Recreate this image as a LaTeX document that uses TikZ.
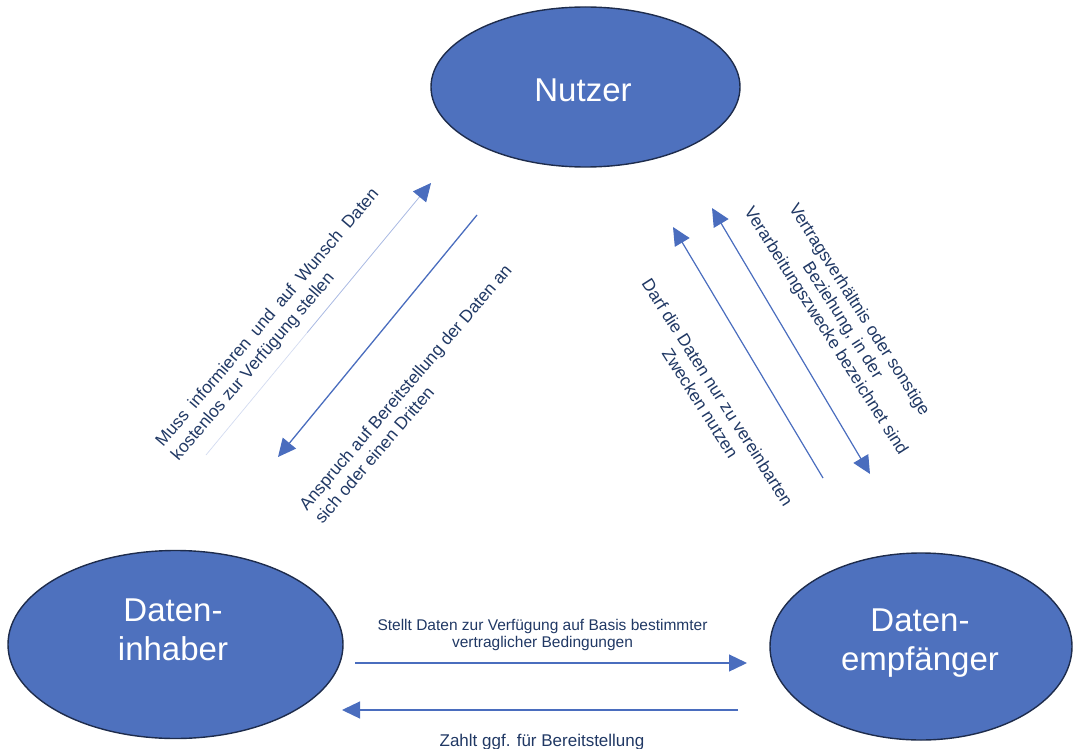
\documentclass[tikz,border=0pt]{standalone}
\usepackage{fontspec}
\setmainfont{Liberation Sans}
\usetikzlibrary{arrows.meta,calc,shapes.geometric}

\definecolor{partyblue}{HTML}{4E71BE}
\definecolor{partyline}{HTML}{1E2C4C}
\definecolor{linkblue}{HTML}{4A6DBE}
\definecolor{faintblue}{HTML}{D3DBF0}
\definecolor{midblue}{HTML}{A9B9E2}
\definecolor{labelnavy}{HTML}{203864}

\begin{document}
\begin{tikzpicture}[x=1pt,y=-1pt,
  party/.style={ellipse, draw=partyline, line width=1.4pt, fill=partyblue, inner sep=0pt},
  partytext/.style={text=white, font=\fontsize{33}{39}\selectfont, align=center, anchor=base, inner sep=0pt},
  tip/.style={-{Triangle[length=18pt,width=17pt,color=linkblue]}},
  link/.style={draw=linkblue, line width=1.3pt, tip},
  twoway/.style={draw=linkblue, line width=1.3pt, {Triangle[length=18pt,width=17pt,color=linkblue]}-{Triangle[length=18pt,width=17pt,color=linkblue]}},
  linklabel/.style={text=labelnavy, font=\fontsize{17.3}{20.5}\selectfont, inner sep=0pt},
  flowlabel/.style={text=labelnavy, inner sep=0pt, align=center, anchor=base},
]
\useasboundingbox (0,0) rectangle (1073,749);

% the three parties
\node[party, minimum width=309pt, minimum height=160pt] (nutzer) at (585.5,87) {};
\node[party, minimum width=335pt, minimum height=188pt] (inhaber) at (175.5,644.5) {};
\node[party, minimum width=302pt, minimum height=187pt] (empf) at (921,646.5) {};

% party names (a multi-line node sits on the baseline of its last line)
\node[partytext] (nutzerlbl) at (583,101.7) {Nutzer};
\node[partytext] (inhaberlbl) at (173,660) {Daten-\\inhaber};
\node[partytext] (empflbl) at (920,670.5) {Daten-\\empfänger};

% end points of the connectors
\coordinate (l1s) at (206,455);  \coordinate (l1e) at (431,183);
\coordinate (l2s) at (477,215);  \coordinate (l2e) at (278,457);
\coordinate (r1s) at (823,478);  \coordinate (r1e) at (673,227);
\coordinate (r2s) at (712,208);  \coordinate (r2e) at (870,474);
\coordinate (b1s) at (355,663);  \coordinate (b1e) at (747,663);
\coordinate (b2s) at (738,710);  \coordinate (b2e) at (342,710);

% Dateninhaber -> Nutzer: a faint line that darkens towards its tip
\draw[faintblue, line width=0.7pt] (l1s) -- ($(l1s)!0.45!(l1e)$);
\draw[midblue, line width=0.8pt, tip] ($(l1s)!0.45!(l1e)$) -- (l1e);

% Nutzer -> Dateninhaber
\draw[link] (l2s) -- (l2e);

% Datenempfänger <-> Nutzer
\draw[link, line width=1.2pt] (r1s) -- (r1e);
\draw[twoway, line width=1.2pt] (r2s) -- (r2e);

% Dateninhaber <-> Datenempfänger
\draw[link] (b1s) -- (b1e);
\draw[link] (b2s) -- (b2e);

% labels along the slanted connectors, anchored on the baseline of the last line
\node[linklabel, align=left, rotate=49.5, anchor=base west] (lbl1) at (178.6,461.3)
  {\makebox[333pt][s]{Muss informieren und auf Wunsch Daten}\\kostenlos zur Verfügung stellen};
\node[linklabel, align=left, rotate=49.5, anchor=base west] (lbl2) at (322.6,524.8)
  {Anspruch auf Bereitstellung der Daten an\\sich oder einen Dritten};
\node[linklabel, align=center, rotate=-57.5, anchor=base] (lbl3) at (695.2,406.5)
  {Darf die Daten nur zu vereinbarten\\Zwecken nutzen};
\node[linklabel, align=center, rotate=-57.5, anchor=base, font=\fontsize{17.3}{19.8}\selectfont] (lbl4) at (821.6,333.8)
  {Vertragsverhältnis oder sonstige\\Beziehung, in der\\Verarbeitungszwecke bezeichnet sind};

% labels of the horizontal connectors
\node[flowlabel, font=\fontsize{15.5}{17.8}\selectfont] (lbl5) at (542.5,647.8)
  {Stellt Daten zur Verfügung auf Basis bestimmter\\vertraglicher Bedingungen};
\node[flowlabel, font=\fontsize{17}{20}\selectfont] (lbl6) at (542,746.5)
  {Zahlt ggf. für Bereitstellung};
\end{tikzpicture}
\end{document}
